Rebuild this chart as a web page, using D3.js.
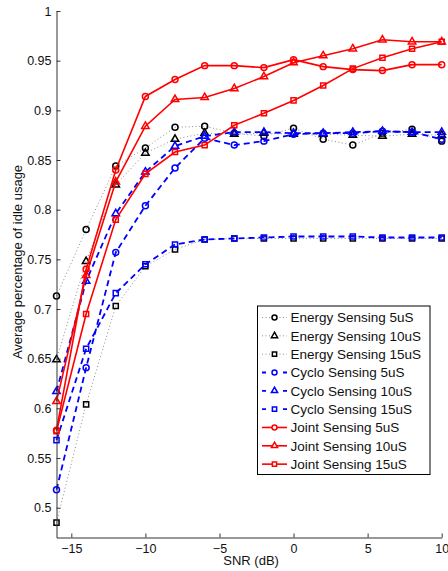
<!DOCTYPE html>
<html>
<head>
<meta charset="utf-8">
<script src="https://cdn.jsdelivr.net/npm/d3@7"></script>
<style>
  body { margin: 0; background: #fff; }
  svg { font-family: "Liberation Sans", Arial, Helvetica, sans-serif; }
</style>
</head>
<body>
<script>
// x values (SNR in dB)
let snr = [-16, -14, -12, -10, -8, -6, -4, -2, 0, 2, 4, 6, 8, 10];

// series values
let energy5  = [0.713, 0.780, 0.844, 0.862, 0.883, 0.884, 0.877, 0.874, 0.882, 0.871, 0.865, 0.877, 0.881, 0.869];
let energy10 = [0.649, 0.748, 0.825, 0.857, 0.871, 0.877, 0.876, 0.877, 0.876, 0.876, 0.875, 0.874, 0.876, 0.875];
let energy15 = [0.485, 0.604, 0.703, 0.743, 0.760, 0.770, 0.771, 0.771, 0.771, 0.771, 0.771, 0.771, 0.771, 0.771];
let cyclo5   = [0.518, 0.641, 0.757, 0.804, 0.842, 0.872, 0.865, 0.869, 0.876, 0.877, 0.877, 0.879, 0.878, 0.871];
let cyclo10  = [0.617, 0.728, 0.796, 0.838, 0.864, 0.874, 0.878, 0.878, 0.877, 0.877, 0.878, 0.879, 0.878, 0.878];
let cyclo15  = [0.568, 0.660, 0.716, 0.745, 0.765, 0.770, 0.771, 0.772, 0.773, 0.773, 0.773, 0.772, 0.772, 0.772];
let joint5   = [0.578, 0.740, 0.840, 0.914, 0.931, 0.945, 0.945, 0.943, 0.951, 0.944, 0.941, 0.940, 0.946, 0.946];
let joint10  = [0.607, 0.734, 0.828, 0.884, 0.911, 0.913, 0.922, 0.934, 0.948, 0.955, 0.962, 0.971, 0.969, 0.969];
let joint15  = [0.577, 0.695, 0.790, 0.836, 0.858, 0.865, 0.885, 0.897, 0.910, 0.925, 0.942, 0.953, 0.962, 0.969];

let legendLabels = [
    "Energy Sensing 5uS", "Energy Sensing 10uS", "Energy Sensing 15uS",
    "Cyclo Sensing 5uS", "Cyclo Sensing 10uS", "Cyclo Sensing 15uS",
    "Joint Sensing 5uS", "Joint Sensing 10uS", "Joint Sensing 15uS"
];

let xTicks = [-15, -10, -5, 0, 5, 10];
let yTicks = [0.5, 0.55, 0.6, 0.65, 0.7, 0.75, 0.8, 0.85, 0.9, 0.95, 1];

// dimensions
let width = 448, height = 571;
let plot = {left: 56.5, right: 441.7, top: 11, bottom: 537.5};

let x = d3.scaleLinear().domain([-16, 10]).range([plot.left, plot.right]);
let y = d3.scaleLinear().domain([0.47, 1]).range([plot.bottom, plot.top]);

// styles per family
let families = {
    energy: {line: "#8c8c8c", marker: "#000", width: 1, dash: "1,2.5"},
    cyclo:  {line: "#0000ff", marker: "#0000ff", width: 1.8, dash: "6,4"},
    joint:  {line: "#ff0000", marker: "#ff0000", width: 1.6, dash: null}
};
let shapes = [d3.symbolCircle, d3.symbolTriangle, d3.symbolSquare];
let shapeSize = [28, 24, 26];

let series = [
    {fam: "energy", shape: 0, values: energy5},
    {fam: "energy", shape: 1, values: energy10},
    {fam: "energy", shape: 2, values: energy15},
    {fam: "cyclo", shape: 0, values: cyclo5},
    {fam: "cyclo", shape: 1, values: cyclo10},
    {fam: "cyclo", shape: 2, values: cyclo15},
    {fam: "joint", shape: 0, values: joint5},
    {fam: "joint", shape: 1, values: joint10},
    {fam: "joint", shape: 2, values: joint15}
];
series.forEach(function(s, i) { s.label = legendLabels[i]; });

let svg = d3.select("body").append("svg")
    .attr("width", width)
    .attr("height", height);

let line = d3.line()
    .x(function(d) { return x(d[0]); })
    .y(function(d) { return y(d[1]); });

// lines and markers
series.forEach(function(s) {
    let st = families[s.fam];
    let pts = snr.map(function(v, i) { return [v, s.values[i]]; });
    svg.append("path")
        .datum(pts)
        .attr("d", line)
        .attr("fill", "none")
        .attr("stroke", st.line)
        .attr("stroke-width", st.width)
        .attr("stroke-dasharray", st.dash);
    svg.append("g").selectAll("path")
        .data(pts)
        .enter().append("path")
        .attr("transform", function(d) { return "translate(" + x(d[0]) + "," + y(d[1]) + ")"; })
        .attr("d", d3.symbol().type(shapes[s.shape]).size(shapeSize[s.shape]))
        .attr("fill", "none")
        .attr("stroke", st.marker)
        .attr("stroke-width", 1.5);
});

// axes
let xAxis = svg.append("g")
    .attr("transform", "translate(0," + plot.bottom + ")")
    .call(d3.axisBottom(x).tickValues(xTicks).tickSizeInner(-4).tickSizeOuter(0).tickPadding(5));
let yAxis = svg.append("g")
    .attr("transform", "translate(" + plot.left + ",0)")
    .call(d3.axisLeft(y).tickValues(yTicks).tickFormat(d3.format("")).tickSizeInner(-4).tickSizeOuter(0).tickPadding(5));

[xAxis, yAxis].forEach(function(a) {
    a.select(".domain").attr("stroke", "#333");
    a.selectAll(".tick line").attr("stroke", "#333");
    a.selectAll("text")
        .attr("fill", "#111")
        .style("font-size", "12.5px")
        .style("font-family", "'Liberation Sans', Arial, sans-serif");
});
xAxis.selectAll("text").attr("y", 7);

// axis labels
svg.append("text")
    .attr("x", (plot.left + plot.right) / 2 + 2)
    .attr("y", 565)
    .attr("text-anchor", "middle")
    .style("font-size", "13px")
    .attr("fill", "#111")
    .text("SNR (dB)");

svg.append("text")
    .attr("transform", "translate(22,262) rotate(-90)")
    .attr("text-anchor", "middle")
    .style("font-size", "13px")
    .attr("fill", "#111")
    .text("Average percentage of idle usage");

// legend
let leg = svg.append("g");
leg.append("rect")
    .attr("x", 257.5).attr("y", 306)
    .attr("width", 172.5).attr("height", 168.5)
    .attr("fill", "#fff")
    .attr("stroke", "#000")
    .attr("stroke-width", 1);

let rows = leg.selectAll("g.row")
    .data(series)
    .enter().append("g")
    .attr("class", "row")
    .attr("transform", function(d, i) { return "translate(0," + (317.5 + i * 18.33) + ")"; });

rows.append("line")
    .attr("x1", 262).attr("x2", 287)
    .attr("stroke", function(d) { return families[d.fam].line; })
    .attr("stroke-width", function(d) { return families[d.fam].width; })
    .attr("stroke-dasharray", function(d) { return d.fam === "cyclo" ? "4,6.5" : families[d.fam].dash; });

rows.append("path")
    .attr("transform", "translate(274.5,0)")
    .attr("d", function(d) { return d3.symbol().type(shapes[d.shape]).size(shapeSize[d.shape] * 0.7)(); })
    .attr("fill", "#fff")
    .attr("stroke", function(d) { return families[d.fam].marker; })
    .attr("stroke-width", 1.5);

rows.append("text")
    .attr("x", 290.5)
    .attr("dy", "0.36em")
    .style("font-size", "13.5px")
    .attr("fill", "#111")
    .text(function(d) { return d.label; });
</script>
</body>
</html>
